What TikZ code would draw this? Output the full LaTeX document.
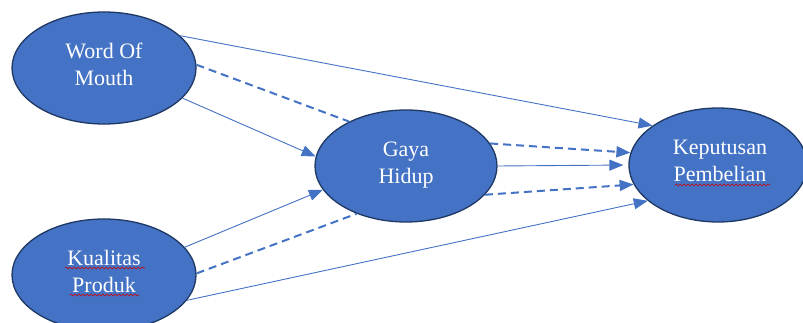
\documentclass[tikz,border=0pt]{standalone}
\usepackage{fontspec}
\setmainfont{Liberation Serif}
\usetikzlibrary{shapes.geometric,arrows.meta,decorations.pathmorphing}
\definecolor{varfill}{HTML}{4472C4}
\definecolor{varedge}{HTML}{1F3864}
\definecolor{linkcol}{HTML}{4472C4}
\definecolor{spellred}{HTML}{D00000}
\tikzset{
  var/.style={ellipse, draw=varedge, line width=1.3pt, fill=varfill,
    minimum width=184pt, minimum height=112pt, inner sep=0pt},
  lbl/.style={text=white, align=center, inner sep=0pt,
    font=\fontsize{22}{27}\selectfont},
  direct/.style={draw=linkcol, line width=0.9pt,
    -{Triangle[length=14pt,width=11pt]}},
  mediated/.style={draw=linkcol, line width=2pt, dash pattern=on 8pt off 5pt},
  mediatedarrow/.style={mediated, -{Triangle[length=14pt,width=11pt]}},
  wavy/.style={draw=spellred, line width=0.6pt,
    decorate, decoration={snake, segment length=4pt, amplitude=0.9pt}}
}
\begin{document}
\begin{tikzpicture}[x=1pt, y=-1pt]
\useasboundingbox (0,0) rectangle (803,323);

% latent variables
\node[var] (wom) at (104,68) {};
\node[var] (kp)  at (104,275) {};
\node[var, minimum width=182pt] (gh) at (406,166) {};
\node[var, minimum width=178pt, minimum height=114pt] (kpb) at (718,165) {};

% their labels
\node[lbl] (womtext) at (104,64) {Word Of\\Mouth};
\node[lbl] (kptext)  at (104,271) {Kualitas\\Produk};
\node[lbl] (ghtext)  at (406,165) {Gaya\\Hidup};
\node[lbl] (kpbtext) at (720,161) {Keputusan\\Pembelian};

% direct effects
\draw[direct] (wom.23) -- (kpb.149);
\draw[direct] (wom.-21) -- (gh.174.5);
\draw[direct] (kp.19) -- (gh.196);
\draw[direct] (kp.-17) -- (kpb.207);
\draw[direct, shorten >=5pt] (gh.0) -- (kpb.180);

% indirect effects through Gaya Hidup
\draw[mediated] (wom.2) -- (gh.142);
\draw[mediated] (kp.1) -- (gh.224);
\draw[mediatedarrow] (gh.15) -- (kpb.172);
\draw[mediatedarrow] (gh.-20) -- (kpb.193);

% spelling marks under the labels
\draw[wavy] (65,268) -- (145,268);
\draw[wavy] (70,295) -- (139,295);
\draw[wavy] (675,185) -- (770,185);
\end{tikzpicture}
\end{document}
